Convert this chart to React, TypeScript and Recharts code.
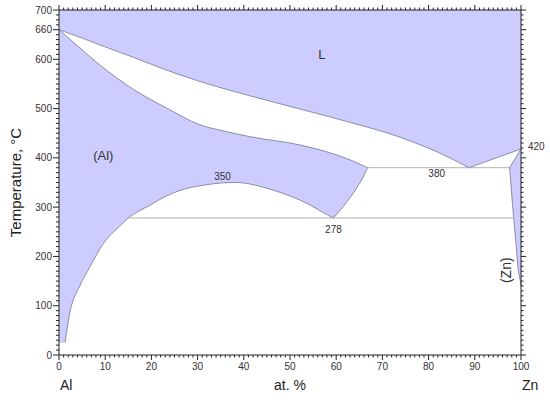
import React from "react";
import { ComposedChart, Area, Line, XAxis, YAxis, ReferenceDot } from "recharts";

const FONT = "'Liberation Sans', Arial, Helvetica, sans-serif";
const PHASE = "#ccccff";
const EDGE = "#8c8ca6";
const TIE = "#b0b0b0";
const INK = "#333";
const AXIS = "#222";

// phase boundaries as [at.% Zn, °C]
const liquidus = [
  [0, 660], [5.3, 642], [8.9, 629], [16.1, 604], [23.3, 578], [30.5, 555],
  [41.3, 526], [52.2, 499], [63, 472], [73.8, 442], [84.6, 400], [88.7, 380],
];
const znLiquidus = [[88.7, 380], [100, 418]];
const alSolidus = [
  [0, 660], [3.8, 629], [8.9, 588], [16.1, 539], [23.3, 501], [30.5, 467],
  [35.9, 454], [41.3, 443], [52.2, 426], [63, 396], [66.8, 380],
];
// (Al) solvus running into the miscibility gap
const alSolvus = [
  [1.3, 25], [2.4, 88], [4.5, 140], [6.7, 179], [9.6, 226], [13.2, 262],
  [15, 278], [17.3, 292], [19.7, 304], [22.9, 321], [26.2, 334], [31, 344],
  [35, 349], [38.5, 350], [44, 341], [47.8, 330], [52, 315], [55, 301],
  [57.2, 289], [59.4, 278],
];
// right-hand edge of (Al) between 278 and 380
const alEdge = [[59.4, 278], [61.5, 301], [63.7, 328], [65.5, 355], [66.8, 380]];
const znSolidus = [[97.55, 380], [100, 418]];
const znSolvus = [[97.55, 380], [98.2, 301], [98.85, 233], [99.4, 172], [99.9, 148], [100, 140]];
const eutectic = [[66.8, 380], [97.55, 380]];
const monotectoid = [[15, 278], [98.4, 278]];

// small overlaps so the white two-phase fills join without seams
const floorPatch = [[0, 25], [2.4, 25]];
const gapPatch = [[58, 250]];
const eutPatch = [[64, 300]];
const liqPatch = [[87.5, 420]];

const compLabels = [0, 10, 20, 30, 40, 50, 60, 70, 80, 90, 100];
const tempLabels = [0, 100, 200, 300, 400, 500, 600, 660, 700];

const notes = [
  { x: 56.9, t: 609, text: "L", size: 13, angle: 0 },
  { x: 9.6, t: 406, text: "(Al)", size: 13, angle: 0 },
  { x: 35.4, t: 363, text: "350", size: 10, angle: 0 },
  { x: 59.4, t: 255, text: "278", size: 10, angle: 0 },
  { x: 81.75, t: 368, text: "380", size: 10, angle: 0 },
  { x: 96.8, t: 172, text: "(Zn)", size: 14, angle: -90 },
];

const pts = (a: number[][]) => a.map(([x, t]) => ({ x, t }));
const band = (a: number[][]) => a.map(([x, t]) => ({ x, t: [t, 700] }));

const xMinor = Array.from({ length: 101 }, (_, i) => i);
const yMinor = Array.from({ length: 71 }, (_, i) => i * 10);

function BottomTick({ x, y, payload }: any) {
  const v = payload.value;
  const major = compLabels.includes(v);
  return (
    <g>
      <line x1={x} x2={x} y1={y} y2={y + (major ? 5 : 2.5)} stroke={AXIS} />
      {major && (
        <text x={x} y={y + 15} textAnchor="middle" fontSize={10} fill={INK} fontFamily={FONT}>
          {v}
        </text>
      )}
    </g>
  );
}

function TopTick({ x, y, payload }: any) {
  const major = compLabels.includes(payload.value);
  return <line x1={x} x2={x} y1={y} y2={y - (major ? 5 : 2.5)} stroke={AXIS} />;
}

function LeftTick({ x, y, payload }: any) {
  const v = payload.value;
  const major = tempLabels.includes(v);
  return (
    <g>
      <line x1={x} x2={x - (major ? 6 : 3)} y1={y} y2={y} stroke={AXIS} />
      {major && (
        <text x={x - 7} y={y + 3.6} textAnchor="end" fontSize={10} fill={INK} fontFamily={FONT}>
          {v}
        </text>
      )}
    </g>
  );
}

function RightTick({ x, y, payload }: any) {
  const major = tempLabels.includes(payload.value);
  return <line x1={x} x2={x + (major ? 5 : 2.5)} y1={y} y2={y} stroke={AXIS} />;
}

function XTitle({ viewBox }: any) {
  const { x, y, width } = viewBox;
  const base = y + 35;
  return (
    <g fontFamily={FONT} fontSize={14} fill="#222">
      <text x={x + 1} y={base}>Al</text>
      <text x={x + width / 2} y={base} textAnchor="middle">at. %</text>
      <text x={x + width + 1} y={base}>Zn</text>
    </g>
  );
}

function YTitle({ viewBox }: any) {
  const cx = viewBox.x + 21;
  const cy = viewBox.y + viewBox.height / 2;
  return (
    <text
      x={cx}
      y={cy}
      textAnchor="middle"
      transform={`rotate(-90 ${cx} ${cy})`}
      fontFamily={FONT}
      fontSize={15}
      fill="#222"
    >
      Temperature, °C
    </text>
  );
}

const fillProps = { dataKey: "t", stroke: "none", fillOpacity: 1, isAnimationActive: false } as const;
const lineProps = { dataKey: "t", strokeWidth: 1, dot: false, activeDot: false, isAnimationActive: false } as const;

export default function App() {
  return (
    <div style={{ position: "absolute", left: 0, top: 0, width: 550, height: 400, background: "#fff" }}>
      <ComposedChart width={550} height={400} margin={{ top: 9, right: 28, bottom: 0, left: 0 }}>
        <XAxis
          xAxisId={0}
          type="number"
          dataKey="x"
          domain={[0, 100]}
          ticks={xMinor}
          interval={0}
          tickSize={0}
          tickMargin={0}
          tickLine={false}
          axisLine={{ stroke: AXIS }}
          tick={<BottomTick />}
          height={45}
          label={<XTitle />}
        />
        <XAxis
          xAxisId="top"
          orientation="top"
          type="number"
          dataKey="x"
          domain={[0, 100]}
          ticks={xMinor}
          interval={0}
          tickSize={0}
          tickMargin={0}
          tickLine={false}
          axisLine={{ stroke: AXIS }}
          tick={<TopTick />}
          height={1}
        />
        <YAxis
          yAxisId={0}
          type="number"
          domain={[0, 700]}
          ticks={yMinor}
          interval={0}
          tickSize={0}
          tickMargin={0}
          tickLine={false}
          axisLine={{ stroke: AXIS }}
          tick={<LeftTick />}
          width={59}
          label={<YTitle />}
        />
        <YAxis
          yAxisId="right"
          orientation="right"
          type="number"
          domain={[0, 700]}
          ticks={yMinor}
          interval={0}
          tickSize={0}
          tickMargin={0}
          tickLine={false}
          axisLine={{ stroke: AXIS }}
          tick={<RightTick />}
          width={1}
        />

        {/* single-phase fields */}
        <Area {...fillProps} data={band(liquidus)} type="monotone" fill={PHASE} />
        <Area {...fillProps} data={band([...liqPatch, ...znLiquidus])} type="linear" fill={PHASE} />
        <Area {...fillProps} data={pts(alSolidus)} type="monotone" fill={PHASE} />
        <Area {...fillProps} data={pts(znSolidus)} type="linear" fill={PHASE} />
        {/* two-phase fields cut back out */}
        <Area {...fillProps} data={pts(floorPatch)} type="linear" fill="#fff" />
        <Area {...fillProps} data={pts(alSolvus)} type="monotone" fill="#fff" />
        <Area {...fillProps} data={pts([...gapPatch, ...alEdge])} type="linear" fill="#fff" />
        <Area {...fillProps} data={pts([...eutPatch, ...eutectic, ...znSolvus.slice(1)])} type="linear" fill="#fff" />

        <Line {...lineProps} xAxisId="top" data={pts(eutectic)} type="linear" stroke={TIE} />
        <Line {...lineProps} yAxisId="right" data={pts(monotectoid)} type="linear" stroke={TIE} />
        <Line {...lineProps} data={pts(liquidus)} type="monotone" stroke={EDGE} />
        <Line {...lineProps} data={pts(znLiquidus)} type="linear" stroke={EDGE} />
        <Line {...lineProps} data={pts(alSolidus)} type="monotone" stroke={EDGE} />
        <Line {...lineProps} data={pts(alSolvus)} type="monotone" stroke={EDGE} />
        <Line {...lineProps} data={pts(alEdge)} type="linear" stroke={EDGE} />
        <Line {...lineProps} data={pts(znSolidus)} type="linear" stroke={EDGE} />
        <Line {...lineProps} data={pts(znSolvus)} type="linear" stroke={EDGE} />

        {notes.map((n) => (
          <ReferenceDot
            key={n.text}
            x={n.x}
            y={n.t}
            r={0}
            fill="none"
            stroke="none"
            ifOverflow="visible"
            label={{ value: n.text, position: "center", fontSize: n.size, fill: INK, fontFamily: FONT, angle: n.angle }}
          />
        ))}
        <ReferenceDot
          x={100}
          y={424}
          r={0}
          fill="none"
          stroke="none"
          ifOverflow="visible"
          label={{ value: "420", position: "right", offset: 7, fontSize: 10, fill: INK, fontFamily: FONT }}
        />
      </ComposedChart>
    </div>
  );
}
